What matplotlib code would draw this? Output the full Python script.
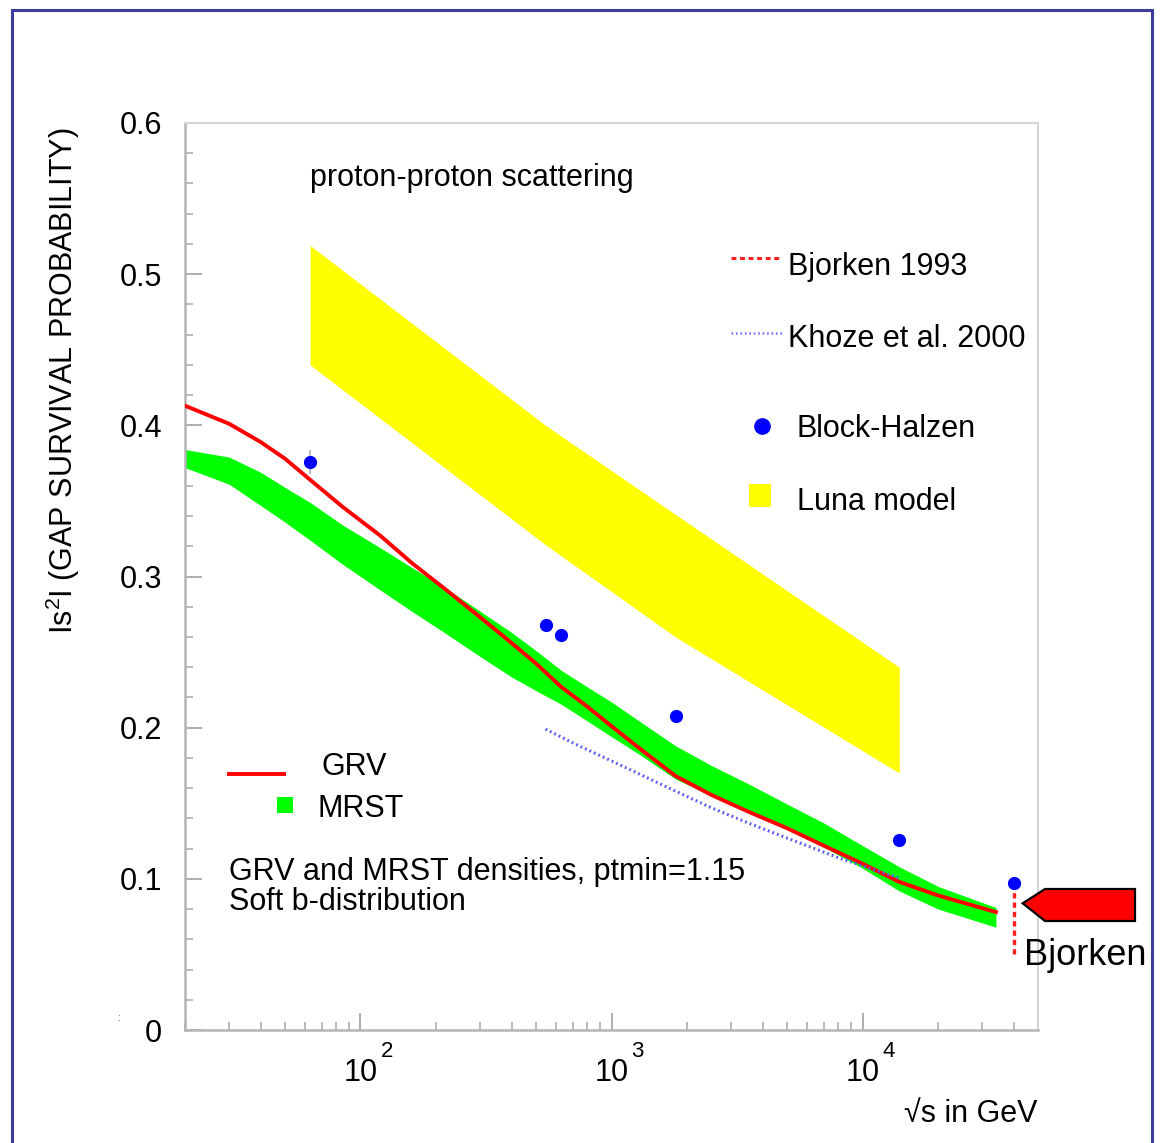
import matplotlib
matplotlib.use('Agg')
import matplotlib.pyplot as plt
import matplotlib.transforms as mtransforms
from matplotlib.patches import Rectangle, Polygon
from matplotlib.ticker import MultipleLocator, FixedLocator, NullFormatter, FixedFormatter

plt.rcParams['font.family'] = ['Liberation Sans', 'DejaVu Sans']
plt.rcParams['mathtext.fontset'] = 'custom'
plt.rcParams['mathtext.rm'] = 'Liberation Sans'

# sqrt(s) in GeV
grv_x = [20, 30, 40, 50, 63, 85, 120, 160, 220, 300, 400, 500, 630, 800, 1000, 1300,
         1800, 2500, 3500, 5000, 7000, 10000, 14000, 20000, 34000]
grv_y = [0.413, 0.401, 0.389, 0.378, 0.364, 0.346, 0.327, 0.309, 0.291, 0.273, 0.256,
         0.2425, 0.227, 0.214, 0.201, 0.186, 0.168, 0.1555, 0.1445, 0.1335, 0.122, 0.110,
         0.098, 0.089, 0.078]
mrst_hi = [0.384, 0.379, 0.369, 0.359, 0.349, 0.334, 0.319, 0.306, 0.292, 0.277, 0.263,
           0.251, 0.238, 0.227, 0.217, 0.204, 0.188, 0.175, 0.163, 0.1495, 0.137, 0.122,
           0.108, 0.095, 0.081]
mrst_lo = [0.372, 0.361, 0.347, 0.336, 0.324, 0.308, 0.291, 0.277, 0.262, 0.247, 0.2335,
           0.2245, 0.2155, 0.2045, 0.194, 0.182, 0.166, 0.155, 0.1445, 0.133, 0.121, 0.107,
           0.092, 0.080, 0.068]

luna_x = [63, 546, 1800, 14000]
luna_hi = [0.519, 0.400, 0.341, 0.240]
luna_lo = [0.440, 0.321, 0.260, 0.170]

khoze_x = [546, 700, 1000, 1800, 2500, 3500, 5000, 8000, 14000]
khoze_y = [0.199, 0.190, 0.178, 0.158, 0.147, 0.137, 0.127, 0.114, 0.1005]

bh_x = [63, 546, 630, 1800, 14000, 40000]
bh_y = [0.376, 0.268, 0.261, 0.208, 0.126, 0.097]
bh_err = [0.008, 0, 0, 0, 0, 0]

bjorken_x = 40000
bjorken_range = [0.05, 0.10]

ytick_vals = [0, 0.1, 0.2, 0.3, 0.4, 0.5, 0.6]
ytick_text = ['0', '0.1', '0.2', '0.3', '0.4', '0.5', '0.6']
xtick_exp = [2, 3, 4]

W, H = 1160, 1143
fig = plt.figure(figsize=(W / 100, H / 100), dpi=100)
ax = fig.add_axes([185 / W, (H - 1030) / H, 853 / W, 907 / H])

ax.set_xscale('log')
ax.set_xlim(20, 50000)
ax.set_ylim(0, 0.6)

# bands and curves
mrst_x = grv_x[:-1] + [34000]
ax.fill_between(luna_x, luna_lo, luna_hi, color='#ffff00', lw=0, zorder=1)
ax.fill_between(mrst_x, mrst_lo, mrst_hi, color='#00ff00', lw=0, zorder=2)
ax.plot(grv_x, grv_y, color='#ff0000', lw=2.8, zorder=3)
ax.plot(khoze_x, khoze_y, color='#5a5af5', lw=2.2, linestyle=(0, (0.6, 1.0)), zorder=3)
ax.plot([bjorken_x, bjorken_x], bjorken_range, color='#ff2020', lw=2.4,
        linestyle=(0, (1.6, 1.2)), zorder=3, clip_on=False)
ax.errorbar(bh_x, bh_y, yerr=bh_err, fmt='o', color='#0000ff', ms=8.5,
            ecolor='#b0b0b0', elinewidth=1.2, capsize=0, zorder=4, clip_on=False)

# axes styling (ROOT-like)
for side in ['left', 'bottom']:
    ax.spines[side].set_color('#b4b4b4')
    ax.spines[side].set_linewidth(1.8)
for side in ['top', 'right']:
    ax.spines[side].set_color('#d4d4d4')
    ax.spines[side].set_linewidth(1.5)

ax.yaxis.set_major_locator(FixedLocator(ytick_vals))
ax.yaxis.set_major_formatter(FixedFormatter(ytick_text))
ax.yaxis.set_minor_locator(MultipleLocator(0.02))
ax.xaxis.set_major_formatter(NullFormatter())
ax.xaxis.set_minor_formatter(NullFormatter())
ax.tick_params(which='both', direction='in', color='#a8a8a8', top=False, right=False)
ax.tick_params(which='major', length=12, width=1.3)
ax.tick_params(which='minor', length=5.5, width=1.1)
ax.tick_params(axis='y', labelsize=22, pad=16.5)

# x tick labels as 10 + raised exponent
blend = mtransforms.blended_transform_factory(ax.transData, ax.transAxes)
exp_trans = mtransforms.offset_copy(blend, fig=fig, x=20, y=0, units='dots')
for e in xtick_exp:
    ax.text(10 ** e, -0.0562, '10', transform=blend, ha='center', va='baseline',
            fontsize=22, clip_on=False)
    ax.text(10 ** e, -0.0294, str(e), transform=exp_trans, ha='left', va='baseline',
            fontsize=16, clip_on=False)

# legend (drawn by hand like the original)
ax.plot([0.6397, 0.6995], [0.8512, 0.8512], transform=ax.transAxes, color='#ff2020',
        lw=2.2, linestyle=(0, (1.6, 1.2)))
ax.text(0.7073, 0.8324, 'Bjorken 1993', transform=ax.transAxes, fontsize=22, va='baseline')
ax.plot([0.6397, 0.6995], [0.7681, 0.7681], transform=ax.transAxes, color='#8080ff',
        lw=2.0, linestyle=(0, (0.6, 1.0)))
ax.text(0.7073, 0.7527, 'Khoze et al. 2000', transform=ax.transAxes, fontsize=22, va='baseline')
ax.plot([0.6768], [0.6659], 'o', transform=ax.transAxes, color='#0000ff', ms=11)
ax.text(0.7171, 0.6541, 'Block-Halzen', transform=ax.transAxes, fontsize=22, va='baseline')
ax.add_patch(Rectangle((0.6612, 0.5763), 0.0254, 0.0254, transform=ax.transAxes,
                       color='#ffff00', lw=0))
ax.text(0.7171, 0.5733, 'Luna model', transform=ax.transAxes, fontsize=22, va='baseline')

ax.plot([0.0516, 0.1161], [0.2822, 0.2822], transform=ax.transAxes, color='#ff0000', lw=2.8)
ax.text(0.1603, 0.2811, 'GRV', transform=ax.transAxes, fontsize=22, va='baseline')
ax.add_patch(Rectangle((0.1075, 0.2393), 0.0188, 0.0176, transform=ax.transAxes,
                       color='#00ff00', lw=0))
ax.text(0.1556, 0.2348, 'MRST', transform=ax.transAxes, fontsize=22, va='baseline')

ax.text(0.1465, 0.9305, 'proton-proton scattering', transform=ax.transAxes,
        fontsize=22, va='baseline')
ax.text(0.0516, 0.1654, 'GRV and MRST densities, ptmin=1.15', transform=ax.transAxes,
        fontsize=22, va='baseline')
ax.text(0.0516, 0.1323, 'Soft b-distribution', transform=ax.transAxes,
        fontsize=22, va='baseline')

# axis titles
fig.text(63 / W, (H - 381) / H, r'Is$^{2}$I (GAP SURVIVAL PROBABILITY)', rotation=90,
         ha='center', va='center', fontsize=22)
fig.text(1037 / W, (H - 1122) / H, '\u221as in GeV', ha='right', va='baseline', fontsize=22)
fig.text(118 / W, (H - 1018) / H, ':', ha='center', va='center', fontsize=7, color='#444444')

# Bjorken arrow marker outside the frame
arrow_px = [(1022.7, 903.3), (1045, 889), (1135, 889), (1135, 921), (1045, 921)]
arrow = Polygon([(x / W, (H - y) / H) for x, y in arrow_px], closed=True,
                transform=fig.transFigure, facecolor='#ff0000', edgecolor='black', lw=1.6)
fig.add_artist(arrow)
fig.text(1024 / W, (H - 965) / H, 'Bjorken', ha='left', va='baseline', fontsize=26)

# outer slide frame
frame = Rectangle((12 / W, -0.02), 1140 / W, (H - 10) / H + 0.02, transform=fig.transFigure,
                  fill=False, edgecolor='#3c3c9c', lw=2.2)
fig.add_artist(frame)

plt.savefig('out.png', dpi=100)
